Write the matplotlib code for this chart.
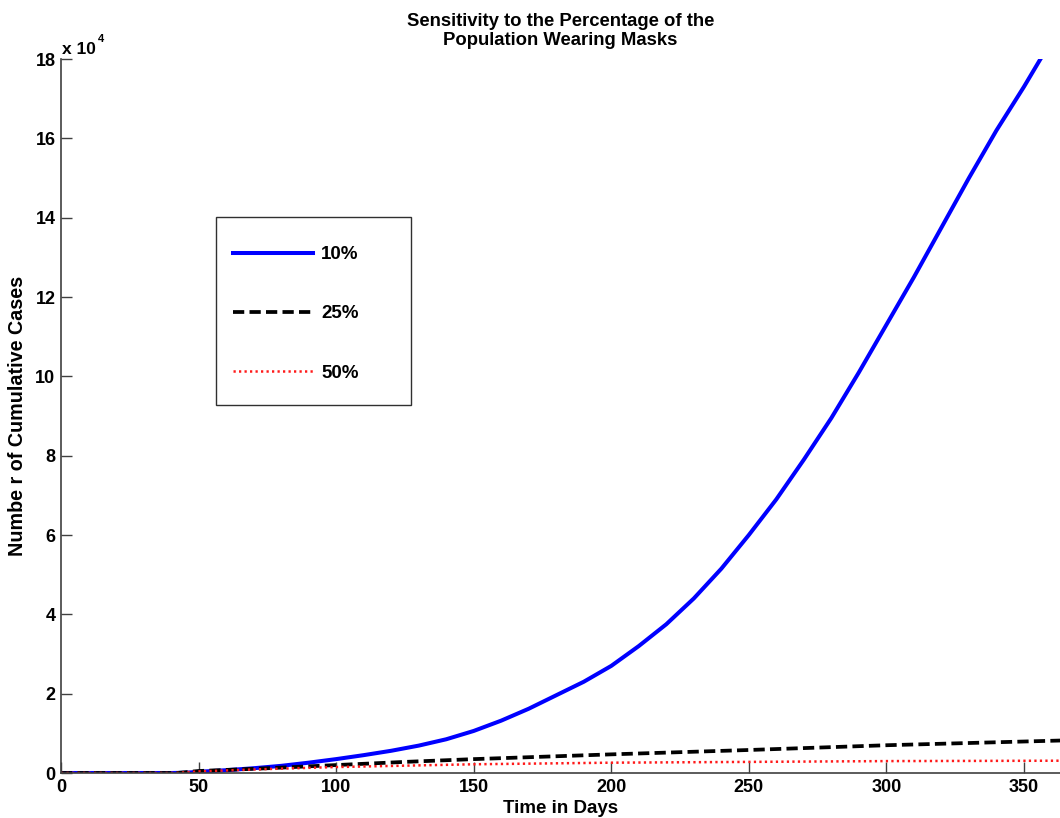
import numpy as np
import matplotlib.pyplot as plt
from matplotlib.patches import Rectangle

plt.rcParams['font.family'] = ['Liberation Sans', 'DejaVu Sans']
plt.rcParams['font.weight'] = 'bold'

# cumulative cases (units of 1e4) for each mask-wearing level
days_10 = [0, 40, 45, 50, 60, 70, 80, 90, 100, 110, 120, 130, 140, 150, 160, 170, 180, 190,
           200, 210, 220, 230, 240, 250, 260, 270, 280, 290, 300, 310, 320, 330, 340, 350, 356, 364]
cases_10 = [0, 0, 0.005, 0.03, 0.07, 0.12, 0.18, 0.26, 0.35, 0.45, 0.56, 0.69, 0.85, 1.06, 1.32, 1.62, 1.96, 2.3,
            2.7, 3.2, 3.75, 4.4, 5.15, 6.0, 6.9, 7.9, 8.95, 10.1, 11.3, 12.5, 13.75, 15.0, 16.2, 17.3, 18.0, 18.9]

days_25 = [0, 42, 50, 75, 100, 125, 150, 200, 250, 300, 364]
cases_25 = [0, 0, 0.05, 0.12, 0.2, 0.28, 0.35, 0.47, 0.58, 0.70, 0.82]

days_50 = [0, 42, 50, 75, 100, 150, 200, 250, 300, 364]
cases_50 = [0, 0, 0.04, 0.1, 0.15, 0.22, 0.26, 0.28, 0.30, 0.31]

labels = ['10%', '25%', '50%']
xticks = [0, 50, 100, 150, 200, 250, 300, 350]
yticks = [0, 2, 4, 6, 8, 10, 12, 14, 16, 18]

W, H = 1060, 818
fig = plt.figure(figsize=(W / 100, H / 100), dpi=100)
ax_left, ax_bottom, ax_top = 61, 773, 59
ax_w, ax_h = W - ax_left, ax_bottom - ax_top
ax = fig.add_axes([ax_left / W, (H - ax_bottom) / H, ax_w / W, ax_h / H])


def px_to_axes(x, y):
    return (x - ax_left) / ax_w, (ax_bottom - y) / ax_h


scale = 1e4
ax.plot(days_10, np.array(cases_10) * scale, color='#0000ff', lw=2.9, label=labels[0])
ax.plot(days_25, np.array(cases_25) * scale, color='black', lw=2.7,
        linestyle=(0, (3, 1.4)), label=labels[1])
ax.plot(days_50, np.array(cases_50) * scale, color='#ff1a1a', lw=1.8,
        linestyle=(0, (0.9, 1.3)), label=labels[2])

ax.set_xlim(0, 363.1)
ax.set_ylim(0, 18 * scale)
ax.set_xticks(xticks)
ax.set_yticks([t * scale for t in yticks])
ax.set_yticklabels([str(t) for t in yticks])

for side in ['top', 'right']:
    ax.spines[side].set_visible(False)
for side in ['left', 'bottom']:
    ax.spines[side].set_color('#404040')
    ax.spines[side].set_linewidth(1.2)
ax.tick_params(direction='in', length=8, width=1, colors='#404040',
               labelcolor='black', labelsize=13, pad=4)
for lab in ax.get_xticklabels() + ax.get_yticklabels():
    lab.set_fontweight('bold')

ax.text(0.001, 1.003, 'x 10', transform=ax.transAxes, fontsize=12.5,
        fontweight='bold', ha='left', va='bottom')
ax.text(0.037, 1.021, '4', transform=ax.transAxes, fontsize=8,
        fontweight='bold', ha='left', va='bottom')

ax.set_title('Sensitivity to the Percentage of the\nPopulation Wearing Masks',
             fontsize=13.3, fontweight='bold', pad=10, linespacing=1.2)
ax.set_xlabel('Time in Days', fontsize=13.5, fontweight='bold', labelpad=3)
ax.set_ylabel('Numbe r of Cumulative Cases', fontsize=14.2, fontweight='bold')
ax.yaxis.set_label_coords(px_to_axes(27, 0)[0], 0.5)

# legend entries without frame, then a plain box around them
leg = ax.legend(loc='upper left', bbox_to_anchor=px_to_axes(233, 246),
                fontsize=13.5, handlelength=4.25, handletextpad=0.45,
                labelspacing=2.25, borderpad=0, borderaxespad=0, frameon=False)
for t in leg.get_texts():
    t.set_fontweight('bold')
bx0, by0 = px_to_axes(216, 405)
bx1, by1 = px_to_axes(411, 217)
ax.add_patch(Rectangle((bx0, by0), bx1 - bx0, by1 - by0, transform=ax.transAxes,
                       fill=False, edgecolor='#303030', lw=1.0, zorder=5))

fig.savefig('out.png', dpi=100)
